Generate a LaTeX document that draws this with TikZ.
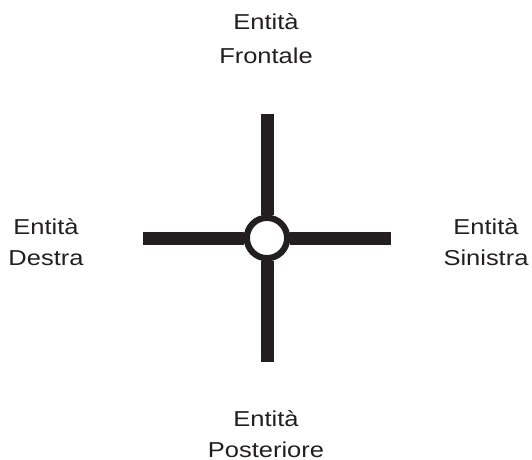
\documentclass[tikz,border=0pt]{standalone}
\usepackage{fontspec}
\setmainfont{Liberation Sans}[FakeStretch=1.18]
\definecolor{ink}{HTML}{231F20}
\begin{document}
\begin{tikzpicture}[x=1pt,y=-1pt,
  arm/.style={draw=ink,line width=13pt,line cap=butt},
  hub/.style={circle,draw=ink,fill=white,line width=6.3pt,minimum size=40.4pt,inner sep=0pt},
  lbl/.style={align=center,anchor=base,inner sep=0pt,text=ink,font=\fontsize{21.6}{31}\selectfont}]
\useasboundingbox (0,0) rectangle (532,459);
\coordinate (top) at (267,114);
\coordinate (bot) at (267,362);
\coordinate (lft) at (143,238);
\coordinate (rgt) at (391,238);
\node[hub] (c) at (267,238) {};
\draw[arm] (c) -- (top);
\draw[arm] (c) -- (bot);
\draw[arm] (c) -- (lft);
\draw[arm] (c) -- (rgt);
\node[lbl,font=\fontsize{21.6}{34}\selectfont] (front) at (266,63.3) {Entità\\Frontale};
\node[lbl] (dx) at (46,265) {Entità\\Destra};
\node[lbl] (sx) at (486,265) {Entità\\Sinistra};
\node[lbl] (back) at (266,457.3) {Entità\\Posteriore};
\end{tikzpicture}
\end{document}
